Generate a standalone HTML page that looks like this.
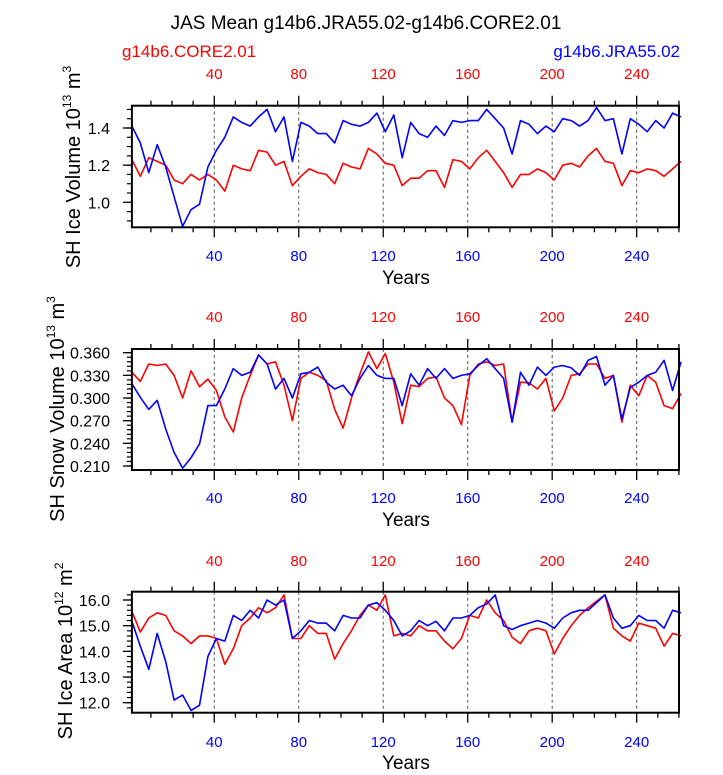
<!DOCTYPE html>
<html><head><meta charset="utf-8">
<style>
html,body{margin:0;padding:0;background:#fff;}
svg{display:block;font-family:"Liberation Sans",Arial,sans-serif;}
</style></head>
<body>
<svg id="chart" width="723" height="775" viewBox="0 0 723 775" xmlns="http://www.w3.org/2000/svg">
<text x="366" y="29" font-size="19" text-anchor="middle" fill="#000">JAS Mean g14b6.JRA55.02-g14b6.CORE2.01</text>
<text x="122" y="57" font-size="17" fill="#ff0000">g14b6.CORE2.01</text>
<text x="680" y="57" font-size="17" text-anchor="end" fill="#0000ff">g14b6.JRA55.02</text>
<g id="panels"></g>
</svg>
<script>
// shared x data
const years = [1,5,9,13,17,21,25,29,33,37,41,45,49,53,57,61,65,69,73,77,81,85,89,93,97,101,105,109,113,117,121,125,129,133,137,141,145,149,153,157,161,165,169,173,177,181,185,189,193,197,201,205,209,213,217,221,225,229,233,237,241,245,249,253,257,261];
const xTicks = [40,80,120,160,200,240];

// Panel 1: SH Ice Volume
const iceVolBlue = [1.41,1.32,1.16,1.31,1.19,1.03,0.87,0.96,0.99,1.19,1.28,1.35,1.46,1.43,1.41,1.46,1.50,1.38,1.46,1.22,1.43,1.41,1.37,1.37,1.32,1.44,1.42,1.41,1.43,1.48,1.38,1.47,1.24,
 1.43,1.37,1.35,1.41,1.36,1.44,1.43,1.44,1.44,1.50,1.45,1.40,1.26,1.44,1.42,1.37,1.41,1.38,1.45,1.44,1.41,1.44,1.51,1.44,1.45,1.26,1.45,1.42,1.38,1.44,1.40,1.48,1.46];
const iceVolRed = [1.23,1.14,1.24,1.22,1.20,1.12,1.10,1.15,1.12,1.15,1.12,1.06,1.20,1.18,1.17,1.28,1.27,1.20,1.22,1.09,1.14,1.18,1.16,1.15,1.10,1.21,1.19,1.18,1.29,1.26,1.21,1.20,1.09,
 1.13,1.13,1.17,1.17,1.08,1.23,1.22,1.18,1.24,1.28,1.22,1.16,1.08,1.15,1.15,1.18,1.16,1.12,1.20,1.21,1.19,1.25,1.29,1.22,1.21,1.09,1.17,1.16,1.18,1.17,1.14,1.18,1.22];
const iceVolTicks = ["1.0","1.2","1.4"];

// Panel 2: SH Snow Volume
const snowBlue = [0.319,0.301,0.285,0.297,0.259,0.228,0.207,0.221,0.239,0.290,0.290,0.312,0.339,0.330,0.334,0.357,0.345,0.312,0.326,0.300,0.332,0.334,0.341,0.321,0.312,0.317,0.303,0.326,0.343,0.330,0.326,0.326,0.290,
 0.332,0.317,0.339,0.326,0.339,0.326,0.330,0.332,0.343,0.352,0.339,0.326,0.268,0.334,0.317,0.341,0.330,0.341,0.343,0.340,0.330,0.350,0.355,0.317,0.330,0.272,0.314,0.321,0.330,0.334,0.350,0.310,0.348];
const snowRed = [0.334,0.322,0.345,0.343,0.345,0.330,0.300,0.336,0.315,0.325,0.310,0.275,0.255,0.300,0.330,0.357,0.345,0.348,0.317,0.270,0.326,0.334,0.330,0.323,0.285,0.260,0.300,0.332,0.361,0.339,0.359,0.321,0.266,
 0.317,0.315,0.326,0.328,0.300,0.290,0.265,0.330,0.345,0.348,0.343,0.345,0.268,0.321,0.320,0.312,0.326,0.283,0.300,0.330,0.332,0.345,0.345,0.326,0.330,0.268,0.317,0.303,0.330,0.321,0.290,0.286,0.306];
const snowTicks = ["0.210","0.240","0.270","0.300","0.330","0.360"];

// Panel 3: SH Ice Area
const areaBlue = [15.17,14.2,13.3,14.7,13.6,12.1,12.3,11.7,11.9,13.8,14.5,14.4,15.4,15.2,15.6,15.3,16.0,15.8,16.0,14.5,14.8,15.2,15.1,15.1,14.8,15.4,15.3,15.3,15.8,15.9,15.6,15.2,14.6,
 14.8,15.2,15.0,15.17,14.8,15.3,15.3,15.4,15.7,15.85,16.2,15.0,14.85,15.0,15.1,15.2,15.1,14.9,15.3,15.5,15.6,15.6,15.9,16.2,15.3,14.9,15.0,15.4,15.2,15.2,14.9,15.6,15.5];
const areaRed = [15.56,14.75,15.3,15.5,15.4,14.8,14.6,14.3,14.6,14.6,14.5,13.5,14.1,15.0,15.3,15.7,15.5,15.7,16.2,14.5,14.5,15.0,14.7,14.7,13.7,14.3,14.8,15.4,15.8,15.6,16.2,14.6,14.7,
 14.6,15.0,14.8,14.8,14.4,14.1,14.5,15.4,15.3,16.0,15.5,15.2,14.55,14.3,14.8,14.9,14.8,13.9,14.5,15.0,15.4,15.7,15.95,16.2,14.9,14.6,14.4,15.1,15.0,14.9,14.2,14.7,14.6];
const areaTicks = ["12.0","13.0","14.0","15.0","16.0"];

const NS = "http://www.w3.org/2000/svg";
const root = document.getElementById('panels');
const X0 = 131.9, XPY = 2.112, XL = 131.9, XR = 679;
function xs(yr){ return X0 + (yr-1)*XPY; }

function mk(tag, attrs, parent){
  const e = document.createElementNS(NS, tag);
  for (const k in attrs) e.setAttribute(k, attrs[k]);
  (parent||root).appendChild(e);
  return e;
}

const panels = [
  {name:'ice-volume', top:105.7, bot:227.3, vA:1.4, yA:128, vB:1.0, yB:202.3, minor:0.05, ticks:iceVolTicks,
   blue:iceVolBlue, red:iceVolRed, title:['SH Ice Volume 10','13',' m','3'], tcx:80, tcy:167, topLab:79, botLab:261, yrs:290},
  {name:'snow-volume', top:349, bot:470, vA:0.36, yA:352.7, vB:0.21, yB:466, minor:0.006, ticks:snowTicks,
   blue:snowBlue, red:snowRed, title:['SH Snow Volume 10','13',' m','3'], tcx:64, tcy:409, topLab:322, botLab:503, yrs:532},
  {name:'ice-area', top:591.7, bot:712.7, vA:16, yA:600, vB:12, yB:702.7, minor:0.2, ticks:areaTicks,
   blue:areaBlue, red:areaRed, title:['SH Ice Area 10','12',' m','2'], tcx:72, tcy:651, topLab:566, botLab:747, yrs:775}
];

panels.forEach(p => {
  const g = mk('g', {});
  
  
  const ys = v => p.yA + (v - p.vA) * (p.yB - p.yA) / (p.vB - p.vA);
  const vTop = p.vA + (p.top - p.yA) * (p.vB - p.vA) / (p.yB - p.yA);
  const vBot = p.vA + (p.bot - p.yA) * (p.vB - p.vA) / (p.yB - p.yA);

  xTicks.forEach(t => {
    const l = mk('line', {x1:xs(t), x2:xs(t), y1:p.top, y2:p.bot, stroke:'#555', 'stroke-width':1, 'stroke-dasharray':'3,3'}, g);
    
    
  });

  [['red', p.red, '#ff0000'], ['blue', p.blue, '#0000ff']].forEach(s => {
    const d = years.map((yr,i) => (i?'L':'M') + xs(yr).toFixed(1) + ',' + ys(s[1][i]).toFixed(1)).join('');
    const path = mk('path', {d:d, fill:'none', stroke:s[2], 'stroke-width':1.6, 'stroke-linejoin':'round'}, g);
    
    
  });

  for (let yr = 10; yr <= 260; yr += 10) {
    const major = yr % 40 === 0;
    const L = major ? 10 : 5;
    mk('line', {x1:xs(yr), x2:xs(yr), y1:p.top, y2:p.top - L, stroke:'#000', 'stroke-width':1.3}, g);
    mk('line', {x1:xs(yr), x2:xs(yr), y1:p.bot, y2:p.bot + L, stroke:'#000', 'stroke-width':1.3}, g);
  }
  xTicks.forEach(t => {
    const a = mk('text', {x:xs(t), y:p.topLab, 'font-size':15, 'text-anchor':'middle', fill:'#ff0000'}, g);
    a.textContent = t;
    
    
    const b = mk('text', {x:xs(t), y:p.botLab, 'font-size':15, 'text-anchor':'middle', fill:'#0000ff'}, g);
    b.textContent = t;
    
    
  });

  const lo = Math.min(vTop, vBot), hi = Math.max(vTop, vBot);
  for (let k = Math.ceil(lo / p.minor - 1e-6); k * p.minor <= hi + 1e-9; k++) {
    const v = k * p.minor;
    mk('line', {x1:XL, x2:XL - 5, y1:ys(v), y2:ys(v), stroke:'#000', 'stroke-width':1.2}, g);
  }
  p.ticks.forEach(t => {
    const v = parseFloat(t);
    mk('line', {x1:XL, x2:XL - 9, y1:ys(v), y2:ys(v), stroke:'#000', 'stroke-width':1.3}, g);
    const tx = mk('text', {x:110, y:ys(v) + 6, 'font-size':16, 'text-anchor':'end', fill:'#000'}, g);
    tx.textContent = t;
    
    
  });

  const fr = mk('rect', {x:XL, y:p.top, width:XR - XL, height:p.bot - p.top, fill:'none', stroke:'#000', 'stroke-width':2}, g);
  
  

  const xt = mk('text', {x:406, y:p.yrs - 6, 'font-size':19, 'text-anchor':'middle', fill:'#000'}, g);
  xt.textContent = 'Years';
  
  

  const yt = mk('text', {x:0, y:0, 'font-size':20, 'text-anchor':'middle', fill:'#000', transform:'translate(' + p.tcx + ',' + p.tcy + ') rotate(-90)'}, g);
  
  
  const t1 = mk('tspan', {}, yt); t1.textContent = p.title[0];
  const t2 = mk('tspan', {'font-size':12, dy:-9}, yt); t2.textContent = p.title[1];
  const t3 = mk('tspan', {dy:9}, yt); t3.textContent = p.title[2];
  const t4 = mk('tspan', {'font-size':12, dy:-9}, yt); t4.textContent = p.title[3];
});
</script>
</body></html>
